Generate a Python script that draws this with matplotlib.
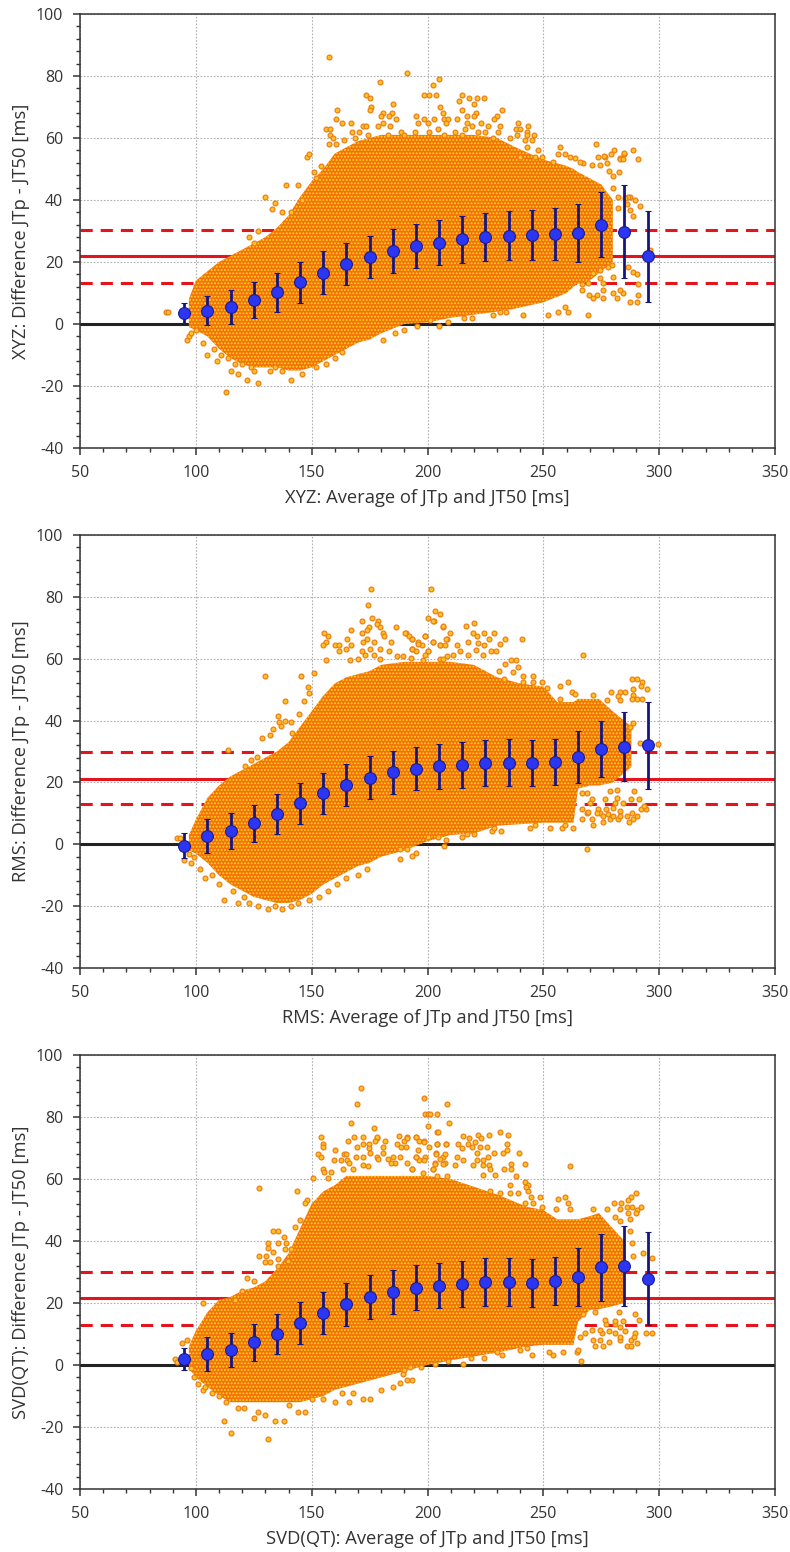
import matplotlib
matplotlib.use('Agg')
import matplotlib.pyplot as plt
from matplotlib.ticker import MultipleLocator

plt.rcParams['font.family'] = ['Open Sans', 'DejaVu Sans']
plt.rcParams['hatch.linewidth'] = 0.9
plt.rcParams['axes.unicode_minus'] = False

#Binned means and SDs, same bins for all three leads
bin_centres = [95, 105, 115, 125, 135, 145, 155, 165, 175, 185, 195, 205, 215, 225, 235, 245, 255, 265, 275, 285, 295]

xyz_mean = [3.5, 4.3, 5.6, 7.8, 10.2, 13.4, 16.6, 19.3, 21.6, 23.5, 25.2, 26.2, 27.3, 28, 28.4, 28.7, 29, 29.4, 32, 29.7, 21.8]
xyz_sd = [3.3, 4.6, 5.5, 5.9, 6.4, 6.7, 6.9, 6.8, 6.9, 7, 7.1, 7.3, 7.7, 7.8, 7.9, 8, 8.5, 9.3, 10.5, 15, 14.8]
rms_mean = [-0.4, 2.8, 4.4, 6.8, 9.8, 13.2, 16.5, 19.2, 21.5, 23.3, 24.5, 25.2, 25.7, 26.3, 26.4, 26.3, 26.7, 28.2, 30.8, 31.6, 32]
rms_sd = [4, 5.5, 5.8, 6, 6.4, 6.5, 6.6, 6.8, 6.9, 6.9, 7, 7.2, 7.5, 7.5, 7.5, 7.5, 7.5, 8.3, 9, 11.2, 14]
svd_mean = [2, 3.6, 4.8, 7.3, 10.1, 13.5, 16.7, 19.6, 21.9, 23.6, 25, 25.6, 26.1, 26.8, 26.7, 26.4, 27.2, 28.4, 31.6, 32, 27.9]
svd_sd = [3.5, 5.5, 5.5, 6, 6.5, 6.7, 6.7, 6.9, 7, 7, 7.2, 7.3, 7.5, 7.7, 7.7, 7.7, 7.8, 9.5, 10.8, 13, 15]

#Mean difference and limits
xyz_lines = [21.8, 30.4, 13.1]
rms_lines = [21.2, 29.8, 13.0]
svd_lines = [21.6, 30.1, 13.0]

#Outline of the solid part of each cloud
xyz_env_x = [97, 100, 105, 110, 115, 120, 125, 130, 135, 140, 145, 150, 155, 160, 165, 170, 175, 180, 190, 200, 210, 220, 230, 238, 250, 260, 263, 265, 270, 275, 280]
xyz_env_lo = [-1, -2, -4, -8, -11, -13, -14, -14, -14, -15, -15, -14, -12, -10, -8, -6, -5, -3, 0, 0.5, 2, 3, 4, 5, 7, 10, 12, 13, 14, 17, 20]
xyz_env_hi = [8, 14, 17, 20, 22, 24, 26, 28, 31, 35, 41, 46, 50, 55, 57, 59, 60, 61, 61, 61, 61, 61, 60, 57, 53, 51, 50, 49, 47, 45, 40]

rms_env_x = [97, 100, 105, 110, 115, 120, 125, 130, 135, 140, 145, 150, 155, 160, 165, 170, 175, 180, 190, 200, 210, 220, 230, 240, 250, 256, 263, 265, 270, 274, 280, 288]
rms_env_lo = [-2, -3, -6, -10, -13, -15, -17, -18, -19, -19, -18, -16, -13, -11, -9, -7, -6, -4, -2, 1, 3, 3.5, 6, 6.5, 7, 7, 7, 18, 19, 19, 20, 25]
rms_env_hi = [3, 8, 15, 19, 22, 24, 26, 28, 30, 33, 38, 43, 48, 52, 54, 55, 56, 58, 59, 59, 59, 58, 54, 52, 51, 46, 46, 47, 47, 47, 43, 38]

svd_env_x = [97, 100, 105, 110, 115, 120, 125, 130, 135, 140, 145, 150, 155, 160, 165, 170, 175, 180, 190, 200, 210, 222, 230, 243, 250, 256, 263, 265, 270, 274, 280, 285]
svd_env_lo = [-1, -4, -7, -10, -12, -12, -12, -12, -12, -12, -12, -11, -10, -8, -7, -6, -5, -4, -2, 0, 1.5, 3, 4, 6, 6.5, 6.5, 6.5, 14, 17.7, 18, 19, 20]
svd_env_hi = [6, 11, 17, 21, 22, 24, 25, 27, 31, 36, 44, 52, 56, 58, 61, 61, 61, 61, 61, 61, 60, 57, 55, 51, 50, 47, 47, 47, 48, 49, 44, 40]

#Loose points outside the solid part, (x, y)
xyz_pts = [(87, 4), (88, 4), (96, -5), (97, -4), (98, -3), (100, -2), (103, -6), (105, -10), (108, -8), (109, -12), (111, -10),
           (113, -22), (114, -11), (115, -15), (117, -13), (118, -16), (120, -13), (122, -18), (124, -14), (125, -15), (127, -19),
           (132, -15), (134, -14), (137, -15), (141, -18), (146, -16), (152, -14), (156, -13), (160, -11), (163, -9),
           (123, 28), (125, 26), (127, 30), (130, 41), (133, 37), (134, 39), (137, 36), (139, 45), (141, 36), (144, 45), (146, 40),
           (148, 54), (149, 55), (151, 49), (152, 47), (154, 51),
           (157.6, 86), (191.1, 81), (179.6, 78), (205, 79), (202.2, 77), (198.5, 74), (200.8, 74), (203.5, 74), (214.7, 74), (213.6, 72),
           (218, 73), (221.2, 73), (224.2, 73), (220, 71), (173.6, 74), (175, 73), (185.1, 71), (175.6, 70), (175, 69), (161, 69),
           (205.5, 70), (206.5, 68), (215, 69), (232, 69), (221, 68), (220, 67), (217, 67), (230, 67), (228.6, 66),
           (180.6, 68), (179.8, 67), (184.5, 68), (183.5, 67), (186.4, 66), (160.5, 66), (163, 65), (167, 65), (156, 63), (158, 63),
           (172, 64), (173.5, 64), (178.5, 64), (181, 64.7), (184, 64), (167.5, 62), (170.6, 62), (195, 67), (198.5, 66), (202.7, 66),
           (207, 66), (209, 66), (212.6, 66), (217, 65), (219, 64), (223, 65), (226, 64), (231.5, 64), (239, 65), (243.5, 64), (238, 63),
           (240, 63), (243, 62), (230.6, 62), (225, 62), (221.7, 62), (216, 63), (212, 62), (204.7, 63), (200.6, 62), (194.6, 62), (188.6, 62),
           (196, 65), (200.4, 65), (208, 65), (246, 61), (243, 61), (238.8, 61), (235.6, 60), (164, 59.5), (158, 61), (159.3, 60), (157.6, 58),
           (160.5, 58), (168.7, 60), (174.5, 61), (182.8, 61), (190, 61), (207, 61), (215, 61), (228.4, 60), (242, 59.5), (245, 59.5), (243, 57),
           (247.7, 56), (257, 57), (272.6, 58), (288.6, 56), (280.6, 56), (279, 55), (285, 55), (256.5, 55), (259.4, 55), (261.5, 54), (263.7, 53.4),
           (276.6, 54), (273.7, 54), (283, 53.4), (249.6, 54), (246.4, 54), (240, 54),
           (287.4, 41.1), (289.6, 40), (286, 38.7), (291.7, 38), (287.4, 36.8), (288.8, 35), (286.7, 41.1), (284.8, 55.3), (290.8, 53.2), (276.2, 54.2),
           (283.1, 53.2), (284.2, 53.2), (277.3, 51.9), (282.8, 48.9), (278.5, 49.2), (274.4, 51.3), (270.8, 51.3), (267.2, 51.9), (265.8, 52.4),
           (254.3, 52.4), (280.2, 43.8), (280.2, 47.6), (282.4, 41.1), (282.4, 37.3), (285.2, 40.6),
           (269.1, 2.9), (252.1, 2.9), (241.3, 2.9), (256.5, 4), (260.8, 4), (259.3, 5.6), (234.1, 4), (231.3, 4), (228.4, 2.9), (219, 1.9), (215.7, 1.9),
           (205.1, -0.8), (209, 0.8), (201, 1.3), (195.3, -0.8), (190, -2), (186, -3), (181, -5),
           (271.3, 8.3), (275.9, 8.3), (281.6, 8.3), (287.4, 7.2), (290.6, 7.2), (291, 9.4), (284.5, 9.9), (280.2, 9.9), (275.9, 11), (273, 9.4), (269.8, 9.4),
           (266.5, 11), (274.4, 14.8), (275.9, 13.2), (269.4, 13.2), (266.5, 12.9), (288.8, 16.9), (290.6, 16.2), (291, 12.9), (286.7, 18.5), (279.5, 19),
           (280.2, 15.3), (283.1, 11), (278, 18.5), (274.4, 17.4), (271.6, 16.4), (296, 23.9)]

rms_pts = [(92, 2), (93, 2), (95, -5), (97, -3), (98, -6), (99, -4), (102, -8), (104, -11), (107, -10), (110, -13), (112, -18),
           (116, -15), (118, -19), (121, -17), (123, -19), (127, -20), (131, -21), (134, -20), (137, -21), (141, -20), (144, -19),
           (149, -18), (153, -17), (157, -15), (161, -13), (165, -11), (170, -10), (174, -8),
           (175.7, 82.4), (201.4, 82.4), (174.2, 77.4), (203.2, 75.4), (205.5, 74.3), (200, 73.3), (202.7, 72.3), (206.7, 70.2), (171.7, 72.3),
           (176.2, 73.3), (178.6, 72.3), (178, 71.3), (179.5, 70.2), (174.7, 70.2), (174, 69.2), (167.1, 69.2), (171.7, 68.3), (180.6, 68.3),
           (181.2, 67.2), (186.3, 70.2), (190.7, 68.3), (191.9, 67.2), (193.5, 66.3), (199, 67.2), (196, 65.3), (202.2, 65.3), (208.3, 66.3),
           (155.5, 68.3), (157, 67.2), (156, 65.3), (154.9, 64.3), (165.4, 66.3), (166.8, 64.3), (164.8, 63.2), (160.2, 64.3), (162, 64.3),
           (161.8, 62.5), (171.7, 62.5), (172.3, 65.3), (173.7, 66.3), (176.9, 65.3), (175.2, 63.2), (179.5, 63.2), (184.1, 65.3), (183.5, 62.5),
           (193.2, 63.2), (194.9, 62.5), (197.5, 64.3), (200.4, 62.5), (205.4, 64.3), (207.6, 64.3), (173, 61.3), (177, 61.3), (187, 61), (189.6, 61),
           (198.2, 59.7), (205.4, 60), (208.3, 61), (156.2, 59.7), (166.5, 59.5), (170.1, 60), (179.5, 60),
           (129.7, 54.3), (145.5, 54.3), (151, 55.4), (148.3, 51), (149, 49), (138.5, 46.4), (146.7, 46.4), (135.5, 41.4), (136, 39.5), (138.5, 40),
           (144.7, 42), (136.6, 38.4), (133.4, 37.4), (141, 39.5), (128.5, 34.3), (132, 35.3), (141.4, 36), (113.7, 30.4), (121.2, 25.3), (124, 27.2), (126.2, 28.3),
           (202.5, 72.3), (206.5, 70.5), (216.6, 70.5), (219.9, 71.5), (190.5, 68.3), (198.9, 67.2), (209.7, 68.3), (219.8, 68.3), (224.6, 68.3),
           (228.7, 68.3), (221.2, 67.2), (208.2, 66.4), (226.5, 66.4), (233.4, 66.4), (240.6, 66.4), (193.4, 66.4), (202.2, 65.3), (196, 64.9), (205.4, 64.4),
           (212.6, 64.4), (217.5, 65.3), (221.9, 65.1), (224.4, 64.4), (231.3, 64.9), (193.3, 63.1), (200.3, 62.4), (214, 62.4), (217.3, 61.3), (220.9, 62.9),
           (227.2, 62.4), (229.5, 62.4), (224, 61.3), (267, 61.3), (198.9, 61.3), (211.1, 61.3), (192.8, 60.2), (206.8, 59.9), (236, 59.5), (238, 59.5), (233.4, 58.3),
           (239.2, 57.2), (237, 55.6), (230.8, 55.9), (241.3, 54.3), (245.7, 54.3), (233, 53.5), (241.3, 52.4), (245.7, 52.4), (249.5, 52.4), (251.4, 50.6),
           (260.5, 52.4), (257.2, 51.1), (262.2, 49.2), (257.2, 47.1), (263.7, 48.7), (271.6, 48.4), (279, 49.2), (288.1, 53.5), (290.3, 53.5), (292.7, 52.4),
           (292, 51.1), (294.6, 50.3), (288.5, 50.3), (283, 49.2), (285.2, 49.2), (288.8, 48.4), (288.1, 47.1), (290.3, 47.1), (292.4, 47.1), (282.4, 47.9), (277.3, 46.8),
           (283, 46.8), (288.8, 39.3), (287.4, 38), (299.6, 32.3), (291.7, 32.8),
           (268.7, -1.6), (252.9, 5.2), (244.2, 5.2), (246.4, 6.1), (257.9, 5.2), (262.6, 5.2), (259.3, 6.1), (231.6, 4.3), (227.7, 4.3), (228.8, 5.4), (220, 3.2),
           (214.7, 2.3), (216.9, 3.2), (207.8, 1.3), (204.6, 2.3), (207.1, -0.5), (200.3, 2.3), (195, -2.7), (193.1, -3.8), (191, -1.6), (188, -1.6), (188, -4.6),
           (271.6, 6.1), (275.9, 7.2), (278.8, 8.3), (282.4, 8.3), (287.1, 7.2), (288.8, 8.3), (290.3, 9.1), (288.1, 10.2), (273.7, 11.3), (277, 11.3), (280.2, 11.8),
           (283.1, 10.8), (274.4, 10.2), (278, 9.7), (270.8, 8.3), (266.5, 8.3), (268.7, 10.2), (266.5, 11.3), (269.4, 10.4), (292.1, 11.3), (294.3, 11.3), (293.4, 12.4),
           (291.4, 14.5), (287.7, 14.5), (289.1, 17.2), (284.2, 13.2), (282, 15), (281, 13.2), (276.6, 14.5), (270.8, 14.5), (270.1, 13.2), (266.5, 16.5), (268.7, 16.5),
           (278.8, 17.2), (282, 17.5), (273, 10.2), (286, 9.1), (275.9, 9.1), (280.2, 9.1), (283.1, 9.1)]

svd_pts = [(91, 2), (92, 1), (94, 7), (96, 8), (98, -1), (99, -4), (101, -6), (103, -8), (104, -7), (107, -9), (110, -10), (112, -18),
           (113, -12), (115, -22), (118, -14), (121, -14), (125, -17), (127, -15), (131, -24), (130, -16), (134, -18), (138, -18),
           (140, -13), (144, -15), (147, -15), (150, -11), (155, -11), (160, -12), (163, -9), (166, -12), (168, -9), (172, -11),
           (175, -11), (180, -8), (185, -7), (103, 20), (117, 21), (120, 24), (122, 28), (125, 27),
           (171.3, 89.3), (169.7, 84.2), (166.8, 78.2), (176.8, 76.3), (154.2, 73.4), (155, 71.3), (154.7, 70.3), (152.7, 68.2), (154.2, 67.1), (159.9, 69.3),
           (164, 68.2), (164.8, 68.2), (159.6, 66.2), (162.7, 66.2), (165.4, 66.2), (166.3, 65.1), (168.1, 73.4), (165.5, 72.2), (172, 73.4), (178, 73.2),
           (181.5, 72.2), (178.3, 73.4), (169.7, 70.2), (172, 71.3), (174.7, 71.3), (177.3, 72.2), (174.7, 69.9), (180.6, 70.2), (169.1, 67), (172.3, 67.2),
           (175.2, 68.3), (178, 67), (180.6, 68.3), (178.8, 66.4), (183.1, 66.4), (185, 67), (186, 65.1), (187, 71.3), (187.7, 74), (189.9, 72.2), (191.1, 73.4),
           (188.4, 70.2), (190.6, 70.2), (188.1, 67), (195, 73.4), (198.5, 72.2), (196.3, 72.2), (196, 69.3), (200.6, 70.2), (204.2, 71.3), (207.8, 71.3),
           (203.7, 68.3), (206.8, 67.2), (195, 67), (198.9, 67), (196.5, 66.2), (191, 65.1), (203.2, 65.1), (207.6, 65.1), (198.5, 86.2), (208.4, 84.2),
           (199.1, 81.1), (200.1, 81.1), (201.1, 81.1), (204.2, 81.1), (200.1, 77.2), (204.2, 75.3), (209.4, 78.2),
           (155, 63.3), (155.3, 62.4), (158.3, 62.4), (163.4, 63.3), (168, 63.3), (174.5, 64.2), (172.3, 64.6), (184.1, 65.1), (193.2, 63.3), (202.2, 63.3),
           (198.2, 61.9), (204, 61), (208.3, 61), (127.1, 57.2), (143.5, 56.1), (150.7, 60.2), (156.9, 60.2), (148.1, 53.3), (147.1, 52.4), (133.3, 43.3), (135.3, 43.3),
           (138.2, 41.2), (142.8, 44.4), (145, 46.8), (131, 39.3), (135.3, 39.3), (138.9, 39.3), (131, 37.7), (133.4, 36.3), (138.3, 37.4), (141.1, 37.4), (127.1, 35.2),
           (130.1, 35.2), (135.6, 34.1), (129.8, 33.1), (132, 33.1), (139.9, 33.4), (135.6, 32),
           (204.4, 75.3), (231.3, 75.3), (215.4, 73.9), (221.6, 74.2), (226.5, 74.2), (234.6, 74.2), (217.9, 73.1), (223.1, 73.1), (191, 73.1), (195, 73.4), (198.5, 72),
           (204.2, 71.3), (208, 71.3), (213.3, 71.3), (217.6, 71.3), (220.5, 72), (234.2, 71.3), (219.3, 70.4), (214.7, 69.9), (222.6, 70.2), (225.8, 70.2), (234.4, 69.4),
           (232.7, 68.3), (228.7, 68.3), (221.5, 68.3), (239.5, 68.3), (207.5, 68), (203.6, 68), (226.2, 67), (212.8, 67), (195, 67), (205.4, 66.3), (221.5, 66.1), (223.8, 66.1),
           (215.4, 66.1), (198.5, 66.1), (242, 65), (236, 65), (203.2, 65), (219.8, 64.5), (211.8, 64.5), (206.8, 64.7), (224.1, 64.5), (226.7, 64.5), (236, 63.1), (233, 63.1),
           (226.9, 63.1), (261.5, 64.3), (202.5, 63.1), (193.1, 63.1), (238, 61.1), (229.1, 61.3), (224.1, 61.3), (242.1, 59.1), (235.6, 58), (243.5, 58), (242.5, 57.3),
           (243.5, 56.1), (227, 56.1), (231.3, 55.4), (235.6, 55.4), (239.2, 55.4), (248.5, 54.3), (244.5, 54.3), (259.3, 54.3), (256.3, 53.4), (260.5, 52.4), (245.7, 52.4),
           (242.1, 52.4), (255.4, 50.3), (249.3, 50.9), (261.5, 50.3), (271.3, 50.3), (277.3, 50.3), (283.1, 50.3), (280.6, 52.4), (283.5, 52.4), (290, 55.4), (287.7, 54.3),
           (286.7, 53.2), (285.9, 51.1), (288.1, 51.1), (292.1, 51.1), (290.6, 50), (286.4, 49.1), (290, 48.9), (287.4, 47.2), (283.1, 46.6), (280.9, 47.8), (287.4, 43.2),
           (288.1, 39.3), (288.8, 35.2), (292.9, 36.2), (296.7, 34.4),
           (266.2, 1.3), (258.6, 4.3), (264.4, 4.3), (265.1, 5), (252.6, 4.3), (254.3, 3.2), (244.9, 3.2), (232, 3.2), (224.5, 2.2), (218.6, 2.2), (229.8, 4.3), (239.9, 5),
           (242.8, 5.4), (209, 1.3), (215.4, 0.3), (203.2, 0.3), (197, -0.7), (192.4, -0.7), (189.8, -1.6), (189.3, -2.9), (191.3, -4.8), (193.1, -4.8), (188, -5.7),
           (272.3, 6.1), (275.9, 6.1), (286, 6.1), (287.7, 6.1), (290.3, 7.2), (287.7, 8), (283, 8), (278.5, 7.5), (274.4, 8), (271.6, 8), (275.2, 10.2), (278.5, 11.1),
           (274.4, 11.3), (280.9, 10.2), (283.1, 9.1), (285.2, 11.1), (289.5, 10.2), (294.3, 10.2), (296.7, 10.2), (289.3, 8.9), (270.8, 11.3), (268, 10.2), (265.8, 9.1),
           (277, 13.2), (281, 13.2), (283.1, 12.2), (281, 14.3), (284.5, 14.3), (289.6, 16.5), (291.4, 14.5), (282.8, 17.2), (272.3, 17.2), (267.2, 16.5), (276.6, 14.5)]

x_labels = ['XYZ: Average of JTp and JT50 [ms]', 'RMS: Average of JTp and JT50 [ms]', 'SVD(QT): Average of JTp and JT50 [ms]']
y_labels = ['XYZ: Difference JTp - JT50 [ms]', 'RMS: Difference JTp - JT50 [ms]', 'SVD(QT): Difference JTp - JT50 [ms]']

txt_col = '#333333'


def bland_altman(ax, env_x, env_lo, env_hi, pts, means, sds, lines, xlab, ylab):
    #Reference lines sit under the cloud
    ax.axhline(0, color='#222222', lw=2.2, zorder=2)
    ax.axhline(lines[0], color='#e3141c', lw=2.2, zorder=2)
    ax.axhline(lines[1], color='#e3141c', lw=2.2, ls=(0, (4, 2.6)), zorder=2)
    ax.axhline(lines[2], color='#e3141c', lw=2.2, ls=(0, (4, 2.6)), zorder=2)

    ax.fill_between(env_x, env_lo, env_hi, facecolor='#f4700a', edgecolor='#ffd81f', hatch='.....',
                    linewidth=0, zorder=3)
    ax.scatter([p[0] for p in pts], [p[1] for p in pts], s=12, facecolor='#ffc226', edgecolor='#ec7f14',
               linewidth=0.9, zorder=3)

    ax.errorbar(bin_centres, means, yerr=sds, fmt='o', ms=8.5, mfc='#2b36f2', mec='#1a1a90', mew=0.8,
                ecolor='#15157f', elinewidth=2, capsize=2.2, capthick=1.5, zorder=5)

    ax.set_xlim(50, 350)
    ax.set_ylim(-40, 100)
    ax.xaxis.set_major_locator(MultipleLocator(50))
    ax.xaxis.set_minor_locator(MultipleLocator(10))
    ax.yaxis.set_major_locator(MultipleLocator(20))
    ax.yaxis.set_minor_locator(MultipleLocator(4))
    ax.grid(which='major', color='#b0b0b0', ls=(0, (1.5, 1.5)), lw=0.8, zorder=1)
    ax.set_axisbelow(True)
    ax.tick_params(which='major', length=5, width=1.1, color='#333333', labelsize=11.5, labelcolor=txt_col, pad=7)
    ax.tick_params(which='minor', length=3, width=1, color='#333333')
    for s in ax.spines.values():
        s.set_color('#333333')
        s.set_linewidth(1.1)
    ax.set_xlabel(xlab, fontsize=13.2, color=txt_col)
    ax.set_ylabel(ylab, fontsize=13.2, color=txt_col)
    ax.xaxis.set_label_coords(0.5, -41 / 434.0, transform=ax.transAxes)
    ax.yaxis.set_label_coords(-50 / 695.0, 0.5, transform=ax.transAxes)


fig = plt.figure(figsize=(7.9, 15.52), dpi=100)
W, H = 790.0, 1552.0

ax1 = fig.add_axes([80 / W, 1 - 448 / H, 695 / W, 434 / H])
ax2 = fig.add_axes([80 / W, 1 - 968 / H, 695 / W, 433 / H])
ax3 = fig.add_axes([80 / W, 1 - 1489 / H, 695 / W, 434 / H])

bland_altman(ax1, xyz_env_x, xyz_env_lo, xyz_env_hi, xyz_pts, xyz_mean, xyz_sd, xyz_lines, x_labels[0], y_labels[0])
bland_altman(ax2, rms_env_x, rms_env_lo, rms_env_hi, rms_pts, rms_mean, rms_sd, rms_lines, x_labels[1], y_labels[1])
bland_altman(ax3, svd_env_x, svd_env_lo, svd_env_hi, svd_pts, svd_mean, svd_sd, svd_lines, x_labels[2], y_labels[2])

fig.savefig('out.png', dpi=100)
plt.close(fig)
